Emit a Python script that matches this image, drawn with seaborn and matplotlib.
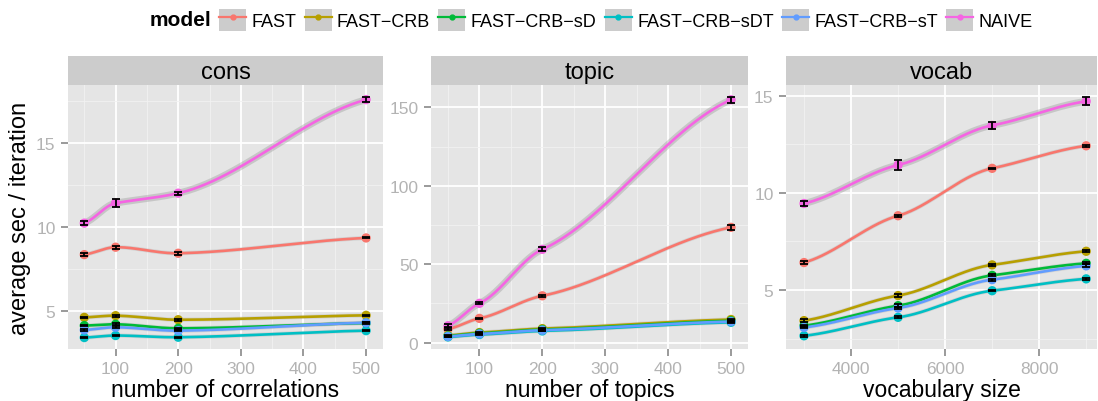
import numpy as np
import pandas as pd
import matplotlib
matplotlib.use('Agg')
import matplotlib.pyplot as plt
from matplotlib.lines import Line2D
from matplotlib.patches import Patch
from matplotlib.legend_handler import HandlerTuple
import seaborn as sns

# ---- data ----
models = ["FAST", "FAST-CRB", "FAST-CRB-sD", "FAST-CRB-sDT", "FAST-CRB-sT", "NAIVE"]
colors = ["#F8766D", "#B79F00", "#00BA38", "#00BFC4", "#619CFF", "#F564E3"]

cons_x = [50, 100, 200, 500]
cons_mean = {
    "FAST":         [8.37, 8.81, 8.45, 9.36],
    "FAST-CRB":     [4.64, 4.74, 4.50, 4.76],
    "FAST-CRB-sD":  [4.15, 4.23, 3.99, 4.30],
    "FAST-CRB-sDT": [3.44, 3.56, 3.46, 3.85],
    "FAST-CRB-sT":  [3.89, 4.05, 3.85, 4.32],
    "NAIVE":        [10.24, 11.43, 12.02, 17.58],
}
cons_err = {
    "FAST":         [0.07, 0.08, 0.08, 0.03],
    "FAST-CRB":     [0.04, 0.07, 0.05, 0.04],
    "FAST-CRB-sD":  [0.04, 0.05, 0.04, 0.04],
    "FAST-CRB-sDT": [0.03, 0.03, 0.03, 0.03],
    "FAST-CRB-sT":  [0.04, 0.05, 0.04, 0.04],
    "NAIVE":        [0.13, 0.24, 0.10, 0.17],
}

topic_x = [50, 100, 200, 500]
topic_mean = {
    "FAST":         [8.7, 15.5, 29.9, 73.5],
    "FAST-CRB":     [4.6, 6.5, 9.0, 14.8],
    "FAST-CRB-sD":  [4.3, 6.0, 8.4, 14.0],
    "FAST-CRB-sDT": [3.7, 5.2, 7.5, 13.0],
    "FAST-CRB-sT":  [4.0, 5.6, 8.0, 13.5],
    "NAIVE":        [10.8, 25.1, 59.5, 154.8],
}
topic_err = {
    "FAST":         [0.6, 0.5, 0.7, 1.5],
    "FAST-CRB":     [0.3, 0.3, 0.3, 0.4],
    "FAST-CRB-sD":  [0.3, 0.3, 0.3, 0.4],
    "FAST-CRB-sDT": [0.3, 0.3, 0.3, 0.4],
    "FAST-CRB-sT":  [0.3, 0.3, 0.3, 0.4],
    "NAIVE":        [1.0, 0.6, 1.2, 1.8],
}

vocab_x = [3000, 5000, 7000, 9000]
vocab_mean = {
    "FAST":         [6.41, 8.82, 11.26, 12.42],
    "FAST-CRB":     [3.42, 4.71, 6.29, 6.99],
    "FAST-CRB-sD":  [3.16, 4.19, 5.75, 6.37],
    "FAST-CRB-sDT": [2.64, 3.59, 4.96, 5.57],
    "FAST-CRB-sT":  [3.07, 4.07, 5.53, 6.24],
    "NAIVE":        [9.45, 11.43, 13.47, 14.71],
}
vocab_err = {
    "FAST":         [0.08, 0.05, 0.04, 0.06],
    "FAST-CRB":     [0.06, 0.07, 0.05, 0.05],
    "FAST-CRB-sD":  [0.05, 0.08, 0.05, 0.05],
    "FAST-CRB-sDT": [0.05, 0.05, 0.04, 0.04],
    "FAST-CRB-sT":  [0.05, 0.07, 0.05, 0.08],
    "NAIVE":        [0.12, 0.28, 0.18, 0.20],
}

facets = ["cons", "topic", "vocab"]
xlabels = ["number of correlations", "number of topics", "vocabulary size"]


def smooth(x, y, n=120, k=0.55):
    # damped hermite curve through the points (stands in for geom_smooth)
    x = np.asarray(x, float)
    y = np.asarray(y, float)
    m = np.empty_like(y)
    m[0] = (y[1] - y[0]) / (x[1] - x[0])
    m[-1] = (y[-1] - y[-2]) / (x[-1] - x[-2])
    m[1:-1] = (y[2:] - y[:-2]) / (x[2:] - x[:-2])
    m *= k
    xs, ys = [], []
    for i in range(len(x) - 1):
        h = x[i + 1] - x[i]
        t = np.linspace(0, 1, n, endpoint=(i == len(x) - 2))
        h00 = 2 * t**3 - 3 * t**2 + 1
        h10 = t**3 - 2 * t**2 + t
        h01 = -2 * t**3 + 3 * t**2
        h11 = t**3 - t**2
        xs.append(x[i] + t * h)
        ys.append(h00 * y[i] + h10 * h * m[i] + h01 * y[i + 1] + h11 * h * m[i + 1])
    return np.concatenate(xs), np.concatenate(ys)


rows, srows = [], []
for facet, xs, means, errs in [("cons", cons_x, cons_mean, cons_err),
                               ("topic", topic_x, topic_mean, topic_err),
                               ("vocab", vocab_x, vocab_mean, vocab_err)]:
    for m in models:
        for xv, yv, ev in zip(xs, means[m], errs[m]):
            rows.append((facet, m, xv, yv, ev))
        sx, sy = smooth(xs, means[m])
        for a, b in zip(sx, sy):
            srows.append((facet, m, a, b))
df = pd.DataFrame(rows, columns=["facet", "model", "x", "y", "err"])
sdf = pd.DataFrame(srows, columns=["facet", "model", "x", "y"])
pal = dict(zip(models, colors))

plt.rcParams['font.family'] = ['Liberation Sans', 'DejaVu Sans']

fig = plt.figure(figsize=(10.98, 4.02), dpi=100)
W, H = 1098.0, 402.0
panels = [(68, 383), (431, 748), (786, 1097)]
ptop, pbot, stop = 86, 350, 57
xlims = [(24, 527), (23, 527), (2617, 9230)]
ylims = [(2.76, 18.45), (-4.0, 164.2), (1.96, 15.55)]
xmajor = [[100, 200, 300, 400, 500], [100, 200, 300, 400, 500], [4000, 6000, 8000]]
xminor = [[50, 150, 250, 350, 450], [50, 150, 250, 350, 450], [3000, 5000, 7000, 9000]]
ymajor = [[5, 10, 15], [0, 50, 100, 150], [5, 10, 15]]
yminor = [[7.5, 12.5, 17.5], [25, 75, 125], [2.5, 7.5, 12.5]]

for i, facet in enumerate(facets):
    l, r = panels[i]
    ax = fig.add_axes([l / W, 1 - pbot / H, (r - l) / W, (pbot - ptop) / H])
    ax.set_facecolor("#E5E5E5")
    for s in ax.spines.values():
        s.set_visible(False)
    ax.set_xlim(*xlims[i])
    ax.set_ylim(*ylims[i])
    ax.set_xticks(xmajor[i])
    ax.set_xticks(xminor[i], minor=True)
    ax.set_yticks(ymajor[i])
    ax.set_yticks(yminor[i], minor=True)
    ax.grid(which="major", color="white", linewidth=1.3)
    ax.grid(which="minor", color="#F2F2F2", linewidth=0.6)
    ax.set_axisbelow(True)
    ax.tick_params(which="major", length=5, width=1.1, color="#7F7F7F",
                   labelcolor="#B3B3B3", labelsize=12.5, pad=4)
    ax.tick_params(which="minor", length=0)

    d = df[df.facet == facet]
    sd = sdf[sdf.facet == facet]
    # grey se band
    for m in models:
        g = sd[sd.model == m]
        ax.plot(g.x, g.y, color="#999999",
                alpha=0.4 if m == "NAIVE" else 0.25,
                lw=5.0 if m == "NAIVE" else 3.0, solid_capstyle="butt", zorder=1)
    sns.lineplot(data=sd, x="x", y="y", hue="model", palette=pal, hue_order=models,
                 estimator=None, sort=False, linewidth=1.9, legend=False, ax=ax, zorder=2)
    sns.scatterplot(data=d, x="x", y="y", hue="model", palette=pal, hue_order=models,
                    s=45, linewidth=0, legend=False, ax=ax, zorder=3)
    ax.errorbar(d.x, d.y, yerr=d.err, fmt="none", ecolor="black", elinewidth=1.3,
                capsize=3.2, capthick=1.3, zorder=4)
    ax.set_xlabel(xlabels[i], fontsize=16.5, labelpad=1)
    ax.set_ylabel("")

    # facet strip
    sax = fig.add_axes([l / W, 1 - ptop / H, (r - l) / W, (ptop - stop) / H])
    sax.set_facecolor("#CCCCCC")
    sax.set_xticks([])
    sax.set_yticks([])
    for s in sax.spines.values():
        s.set_visible(False)
    sax.text(0.5, 0.45, facet, ha="center", va="center", fontsize=17, transform=sax.transAxes)

fig.text(20 / W, 1 - 218 / H, "average sec / iteration", rotation=90,
         ha="center", va="center", fontsize=17)

# legend along the top
handles = [(Patch(facecolor="#CCCCCC", edgecolor="none"),
            Line2D([], [], color=c, lw=1.6, marker="o", markersize=3.5)) for c in colors]
labels = [m.replace("-", "\u2212") for m in models]
fig.text(211 / W, 1 - 21 / H, "model", ha="right", va="center", fontsize=15, fontweight="bold")
fig.legend(handles, labels, loc="center left", bbox_to_anchor=(219 / W, 1 - 21 / H),
           ncol=6, frameon=False, fontsize=13, handler_map={tuple: HandlerTuple(ndivide=1)},
           handlelength=1.5, handleheight=1.5, handletextpad=0.3, columnspacing=0.45,
           borderpad=0, borderaxespad=0)

fig.savefig("out.png", dpi=100)
